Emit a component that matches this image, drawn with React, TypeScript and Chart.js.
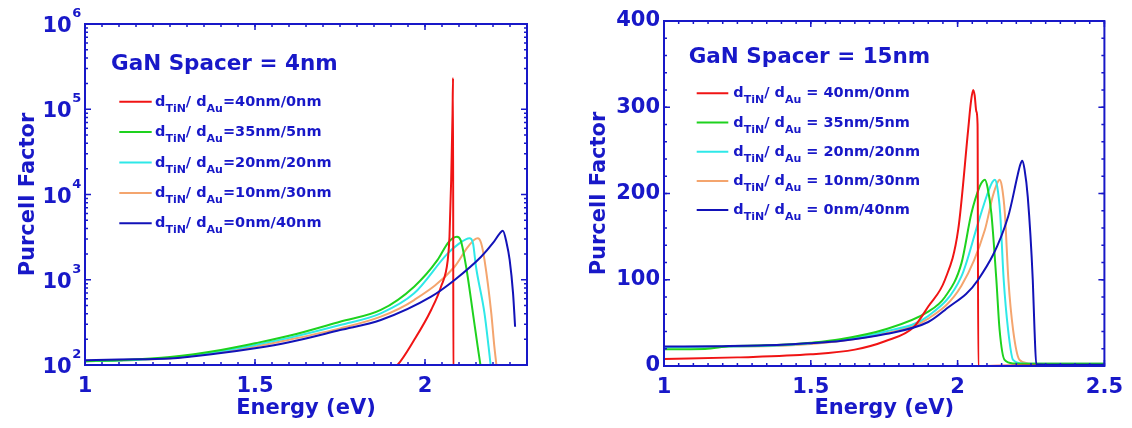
import React, { useEffect, useRef } from "react";
import { Chart, registerables } from "chart.js";
Chart.register(...registerables);

const INK = "#1818c8";
const FONT = "'DejaVu Sans', 'Liberation Sans', sans-serif";

// ---------- series meta ----------
const SERIES_LABELS = ["40nm/0nm", "35nm/5nm", "20nm/20nm", "10nm/30nm", "0nm/40nm"];
const SERIES_COLORS = ["#f01414", "#1ed21e", "#2ee8e8", "#f4a56e", "#1212b8"];
const SERIES_ORDER = [2, 3, 4, 5, 1];

// ---------- GaN spacer = 4 nm (log scale) ----------
const E4_RED = [1.86, 1.919, 1.968, 2.018, 2.047, 2.067, 2.072, 2.077, 2.079, 2.081, 2.0825, 2.0835, 2.3];
const P4_RED = [70, 100, 196, 442, 828, 1710, 3200, 14800, 36300, 90000, 233000, 50, 50];
const E4_GREEN = [1.0, 1.1, 1.25, 1.4, 1.5, 1.6, 1.75, 1.87, 1.968, 2.037, 2.067, 2.082, 2.094, 2.105, 2.121, 2.141, 2.155, 2.163, 2.17];
const P4_GREEN = [111, 114, 124, 150, 180, 220, 322, 442, 830, 1710, 2690, 3080, 3200, 2900, 1420, 404, 164, 100, 60];
const E4_CYAN = [1.0, 1.1, 1.25, 1.4, 1.5, 1.6, 1.75, 1.87, 1.968, 2.067, 2.1, 2.12, 2.131, 2.141, 2.15, 2.175, 2.187, 2.193, 2.2];
const P4_CYAN = [111, 113, 122, 146, 172, 208, 294, 404, 693, 2040, 2650, 2980, 3060, 2700, 1420, 404, 164, 100, 60];
const E4_ORANGE = [1.0, 1.1, 1.25, 1.4, 1.5, 1.6, 1.75, 1.87, 1.968, 2.087, 2.125, 2.145, 2.155, 2.165, 2.175, 2.195, 2.204, 2.21, 2.216];
const P4_ORANGE = [111, 113, 120, 143, 165, 198, 269, 369, 578, 1420, 2400, 2950, 3060, 2700, 1710, 404, 164, 100, 60];
const E4_BLUE = [1.0, 1.1, 1.25, 1.4, 1.5, 1.6, 1.75, 1.87, 2.018, 2.087, 2.165, 2.2, 2.22, 2.229, 2.24, 2.249, 2.259, 2.265];
const P4_BLUE = [114, 116, 119, 138, 157, 185, 257, 337, 633, 994, 1860, 2700, 3500, 3760, 2700, 1710, 693, 281];

// ---------- GaN spacer = 15 nm (linear scale) ----------
const E15_RED = [1.0, 1.25, 1.5, 1.65, 1.755, 1.85, 1.9, 1.957, 2.002, 2.036, 2.045, 2.053, 2.058, 2.064, 2.068, 2.0705, 2.2, 2.5];
const P15_RED = [8, 10, 13.5, 19, 29, 45, 69, 100, 158, 274, 305, 320, 314, 295, 280, 0, 0.5, 0.5];
const E15_GREEN = [1.0, 1.14, 1.22, 1.4, 1.5, 1.6, 1.755, 1.9, 1.957, 2.013, 2.047, 2.075, 2.085, 2.093, 2.102, 2.115, 2.132, 2.143, 2.16, 2.19, 2.3, 2.5];
const P15_GREEN = [19.5, 19.8, 22.8, 24.5, 27, 31, 42.6, 63, 80, 119, 177, 208, 214, 216, 207, 177, 100, 42, 7, 3, 2.5, 2.5];
const E15_CYAN = [1.0, 1.2, 1.4, 1.5, 1.6, 1.755, 1.9, 2.013, 2.07, 2.1, 2.118, 2.127, 2.135, 2.145, 2.157, 2.172, 2.189, 2.22, 2.3, 2.5];
const P15_CYAN = [22, 22.5, 24, 26.5, 30, 40, 58, 104, 166, 198, 213, 216, 208, 177, 100, 42, 7, 3, 2.5, 2.5];
const E15_ORANGE = [1.0, 1.2, 1.4, 1.5, 1.6, 1.755, 1.9, 2.013, 2.093, 2.12, 2.135, 2.143, 2.151, 2.161, 2.173, 2.189, 2.211, 2.24, 2.3, 2.5];
const P15_ORANGE = [22, 22.5, 23.5, 25.5, 29, 38, 55, 93, 158, 197, 212, 216, 208, 177, 100, 42, 7, 3, 2.5, 2.5];
const E15_BLUE = [1.0, 1.2, 1.4, 1.5, 1.6, 1.755, 1.9, 1.957, 2.07, 2.172, 2.205, 2.213, 2.22, 2.228, 2.239, 2.256, 2.262, 2.268, 2.3, 2.5];
const P15_BLUE = [22.5, 23, 24.5, 26.5, 29, 37, 51, 65, 100, 173, 222, 233, 238, 228, 196, 100, 42, 2, 1.5, 1.5];

// ---------- ticks ----------
const X_TICKS_4 = [1, 1.5, 2];
const Y_LOG_EXPONENTS_4 = [2, 3, 4, 5, 6];
const X_TICKS_15 = [1, 1.5, 2, 2.5];
const Y_TICKS_15 = [0, 100, 200, 300, 400];

function makeDatasets(Es: number[][], Ps: number[][]) {
  return Es.map((E, i) => ({
    label: SERIES_LABELS[i],
    data: E.map((x, j) => ({ x, y: Ps[i][j] })),
    borderColor: SERIES_COLORS[i],
    backgroundColor: SERIES_COLORS[i],
    borderWidth: 2,
    pointRadius: 0,
    fill: false,
    cubicInterpolationMode: "monotone" as const,
    order: SERIES_ORDER[i],
  }));
}

type PanelCfg = {
  title: string;
  titleX: number;
  titleY: number;
  legX1: number;
  legX2: number;
  legTextX: number;
  legY0: number;
  legDy: number;
  eq: string;
  xMajor: number[];
  xMinorStep: number;
  log: boolean;
  yMajor: number[];
  yMinorStep: number;
};

function framePlugin(cfg: PanelCfg) {
  return {
    id: "frame",
    afterDatasetsDraw(chart: any) {
      const { ctx, chartArea: a, scales } = chart;
      const xs = scales.x;
      const ys = scales.y;
      ctx.save();
      ctx.strokeStyle = INK;
      const xt = (v: number, len: number) => {
        const p = xs.getPixelForValue(v);
        ctx.beginPath();
        ctx.moveTo(p, a.bottom);
        ctx.lineTo(p, a.bottom - len);
        ctx.moveTo(p, a.top);
        ctx.lineTo(p, a.top + len);
        ctx.stroke();
      };
      const yt = (v: number, len: number) => {
        const p = ys.getPixelForValue(v);
        ctx.beginPath();
        ctx.moveTo(a.left, p);
        ctx.lineTo(a.left + len, p);
        ctx.moveTo(a.right, p);
        ctx.lineTo(a.right - len, p);
        ctx.stroke();
      };
      ctx.lineWidth = 1.5;
      for (let v = xs.min; v <= xs.max + 1e-9; v += cfg.xMinorStep) xt(v, 3);
      cfg.xMajor.forEach((v) => xt(v, 6));
      if (cfg.log) {
        for (let d = 2; d < 6; d++) for (let k = 2; k <= 9; k++) yt(k * Math.pow(10, d), 3);
      } else {
        for (let v = ys.min; v <= ys.max + 1e-9; v += cfg.yMinorStep) yt(v, 3);
      }
      cfg.yMajor.forEach((v) => yt(v, 6));
      ctx.lineWidth = 2;
      ctx.strokeRect(a.left, a.top, a.right - a.left, a.bottom - a.top);

      ctx.fillStyle = INK;
      if (cfg.log) {
        Y_LOG_EXPONENTS_4.forEach((n) => {
          const p = ys.getPixelForValue(Math.pow(10, n));
          ctx.font = `bold 21px ${FONT}`;
          ctx.textAlign = "right";
          ctx.textBaseline = "alphabetic";
          ctx.fillText("10", 71.7, p + 8);
          ctx.font = `bold 13px ${FONT}`;
          ctx.textAlign = "left";
          ctx.fillText(String(n), 72.3, p - 7);
        });
      }

      ctx.font = `bold 21.5px ${FONT}`;
      ctx.textAlign = "left";
      ctx.textBaseline = "alphabetic";
      ctx.fillText(cfg.title, cfg.titleX, cfg.titleY);

      SERIES_LABELS.forEach((lab, i) => {
        const y = cfg.legY0 + i * cfg.legDy;
        ctx.strokeStyle = SERIES_COLORS[i];
        ctx.lineWidth = 2;
        ctx.beginPath();
        ctx.moveTo(cfg.legX1, y);
        ctx.lineTo(cfg.legX2, y);
        ctx.stroke();
        const parts: [string, boolean][] = [
          ["d", false],
          ["TiN", true],
          ["/ d", false],
          ["Au", true],
          [cfg.eq + lab, false],
        ];
        let x = cfg.legTextX;
        const base = y + 4;
        ctx.fillStyle = INK;
        parts.forEach(([t, sub]) => {
          ctx.font = sub ? `bold 11px ${FONT}` : `bold 14.5px ${FONT}`;
          ctx.fillText(t, x, sub ? base + 6 : base);
          x += ctx.measureText(t).width;
        });
      });
      ctx.restore();
    },
  };
}

const axisFont = (size: number) => ({ family: FONT, size, weight: "bold" as const });
const plainNum = (v: any) => String(v);

function leftConfig(): any {
  const cfg: PanelCfg = {
    title: "GaN Spacer = 4nm",
    titleX: 111,
    titleY: 70,
    legX1: 119.3,
    legX2: 151.7,
    legTextX: 155,
    legY0: 101.7,
    legDy: 30.4,
    eq: "=",
    xMajor: X_TICKS_4,
    xMinorStep: 0.05,
    log: true,
    yMajor: Y_LOG_EXPONENTS_4.map((n) => Math.pow(10, n)),
    yMinorStep: 0,
  };
  return {
    type: "line",
    data: {
      datasets: makeDatasets(
        [E4_RED, E4_GREEN, E4_CYAN, E4_ORANGE, E4_BLUE],
        [P4_RED, P4_GREEN, P4_CYAN, P4_ORANGE, P4_BLUE]
      ),
    },
    options: {
      animation: false,
      responsive: false,
      devicePixelRatio: 1,
      events: [],
      layout: { padding: { left: 0, top: 24, right: 33, bottom: 0 } },
      plugins: { legend: { display: false }, tooltip: { enabled: false } },
      scales: {
        x: {
          type: "linear",
          min: 1,
          max: 2.3,
          afterBuildTicks: (s: any) => {
            s.ticks = X_TICKS_4.map((v) => ({ value: v }));
          },
          afterFit: (s: any) => {
            s.height = 63;
          },
          grid: { display: false, drawTicks: false },
          border: { display: false },
          ticks: { color: INK, font: axisFont(21), padding: 9, maxRotation: 0, autoSkip: false, callback: plainNum },
          title: { display: true, text: "Energy (eV)", color: INK, font: axisFont(21), padding: { top: 0, bottom: 7 } },
        },
        y: {
          type: "logarithmic",
          min: 100,
          max: 1e6,
          afterFit: (s: any) => {
            s.width = 85;
          },
          grid: { display: false, drawTicks: false },
          border: { display: false },
          ticks: { display: false },
          title: { display: true, text: "Purcell Factor", color: INK, font: axisFont(21), padding: { top: 16, bottom: 0 } },
        },
      },
    },
    plugins: [framePlugin(cfg)],
  };
}

function rightConfig(): any {
  const cfg: PanelCfg = {
    title: "GaN Spacer = 15nm",
    titleX: 128.7,
    titleY: 62.7,
    legX1: 136.7,
    legX2: 168.3,
    legTextX: 173.3,
    legY0: 93.3,
    legDy: 29.2,
    eq: " = ",
    xMajor: X_TICKS_15,
    xMinorStep: 0.05,
    log: false,
    yMajor: Y_TICKS_15,
    yMinorStep: 20,
  };
  return {
    type: "line",
    data: {
      datasets: makeDatasets(
        [E15_RED, E15_GREEN, E15_CYAN, E15_ORANGE, E15_BLUE],
        [P15_RED, P15_GREEN, P15_CYAN, P15_ORANGE, P15_BLUE]
      ),
    },
    options: {
      animation: false,
      responsive: false,
      devicePixelRatio: 1,
      events: [],
      layout: { padding: { left: 0, top: 21, right: 25, bottom: 0 } },
      plugins: { legend: { display: false }, tooltip: { enabled: false } },
      scales: {
        x: {
          type: "linear",
          min: 1,
          max: 2.5,
          afterBuildTicks: (s: any) => {
            s.ticks = X_TICKS_15.map((v) => ({ value: v }));
          },
          afterFit: (s: any) => {
            s.height = 62;
          },
          grid: { display: false, drawTicks: false },
          border: { display: false },
          ticks: { color: INK, font: axisFont(21), padding: 9, maxRotation: 0, autoSkip: false, callback: plainNum },
          title: { display: true, text: "Energy (eV)", color: INK, font: axisFont(21), padding: { top: 0, bottom: 7 } },
        },
        y: {
          type: "linear",
          min: 0,
          max: 400,
          afterBuildTicks: (s: any) => {
            s.ticks = Y_TICKS_15.map((v) => ({ value: v }));
          },
          afterFit: (s: any) => {
            s.width = 104;
          },
          grid: { display: false, drawTicks: false },
          border: { display: false },
          ticks: { color: INK, font: axisFont(21), padding: 4, callback: plainNum },
          title: { display: true, text: "Purcell Factor", color: INK, font: axisFont(21), padding: { top: 27, bottom: 0 } },
        },
      },
    },
    plugins: [framePlugin(cfg)],
  };
}

function Panel({ make, left, width }: { make: () => any; left: number; width: number }) {
  const ref = useRef<HTMLCanvasElement>(null);
  useEffect(() => {
    const chart = new Chart(ref.current as HTMLCanvasElement, make());
    return () => chart.destroy();
  }, []);
  return (
    <canvas
      ref={ref}
      width={width}
      height={428}
      style={{ position: "absolute", left, top: 0, width, height: 428 }}
    />
  );
}

export default function App() {
  return (
    <div style={{ position: "fixed", left: 0, top: 0, width: 1132, height: 428, background: "#ffffff" }}>
      <Panel make={leftConfig} left={0} width={560} />
      <Panel make={rightConfig} left={560} width={572} />
    </div>
  );
}
